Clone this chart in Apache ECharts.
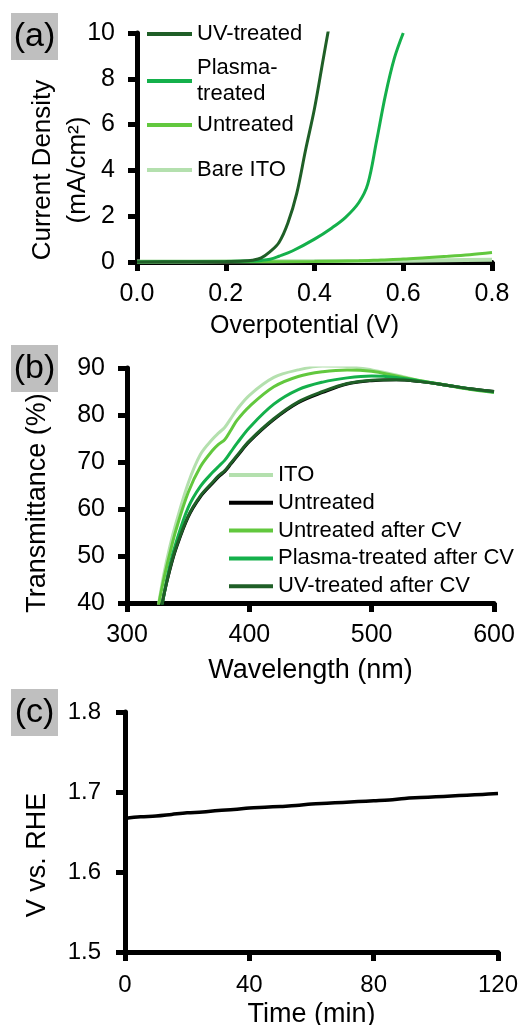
<!DOCTYPE html>
<html><head><meta charset="utf-8">
<script src="https://cdn.jsdelivr.net/npm/echarts@6/dist/echarts.min.js"></script>
<style>html,body{margin:0;padding:0;background:#fff;}#c{width:525px;height:1025px;}</style>
</head><body><div id="c"></div>
<script>
// ---------- Panel (a): Current density vs overpotential ----------
const ovpUV = [0, 0.1, 0.2, 0.24, 0.26, 0.28, 0.30, 0.32, 0.34, 0.36, 0.38, 0.40, 0.42, 0.432];
const jUV   = [0, 0.01, 0.02, 0.04, 0.08, 0.18, 0.45, 0.85, 1.7, 3.0, 4.9, 6.7, 8.9, 10.2];
const ovpPlasma = [0, 0.1, 0.2, 0.25, 0.28, 0.30, 0.32, 0.35, 0.40, 0.44, 0.47, 0.50, 0.52, 0.54, 0.56, 0.58, 0.60];
const jPlasma   = [0, 0.01, 0.02, 0.04, 0.07, 0.12, 0.25, 0.48, 1.0, 1.5, 1.95, 2.6, 3.4, 5.3, 7.3, 8.9, 10.0];
const ovpUntreated = [0, 0.2, 0.4, 0.5, 0.55, 0.6, 0.65, 0.7, 0.75, 0.8];
const jUntreated   = [0, 0.01, 0.02, 0.05, 0.09, 0.13, 0.19, 0.25, 0.32, 0.41];
const ovpITO = [0, 0.2, 0.4, 0.6, 0.7, 0.8];
const jITO   = [0.02, 0.03, 0.04, 0.06, 0.08, 0.1];
const legendA = ['UV-treated', 'Plasma-\ntreated', 'Untreated', 'Bare ITO'];

// ---------- Panel (b): Transmittance vs wavelength ----------
const wavelength = [325, 330, 335, 340, 350, 360, 370, 375, 380, 385, 390, 400, 420, 440, 460, 480, 500, 520, 540, 560, 580, 600];
const tITO        = [38.5, 46, 52, 57, 65.5, 71.6, 74.9, 76.2, 77.4, 79.3, 81.2, 84.2, 88, 89.6, 90.4, 90.3, 89.6, 88.5, 87.3, 86.4, 85.6, 85.0];
const tUntreated  = [34, 41.5, 47, 51.5, 58.3, 62.6, 65.5, 66.9, 68.0, 69.6, 71.2, 74.3, 79, 82.6, 84.8, 86.6, 87.3, 87.5, 87.1, 86.4, 85.6, 85.0];
const tUntreatedCV= [38.5, 45, 50.5, 55.5, 63.5, 69, 72.5, 73.8, 74.8, 76.8, 78.9, 81.8, 86, 88.2, 89.2, 89.6, 89.3, 88.3, 87.3, 86.4, 85.5, 84.8];
const tPlasmaCV   = [34, 41.5, 48, 52.8, 60.3, 64.8, 67.8, 69.1, 70.4, 72.2, 74.0, 77.3, 82.3, 85.4, 87, 87.9, 88.3, 88, 87.2, 86.4, 85.6, 84.9];
const tUVCV       = [34, 41.5, 47.2, 51.7, 58.5, 62.8, 65.7, 67.1, 68.2, 69.8, 71.4, 74.5, 79.2, 82.8, 85, 86.7, 87.4, 87.5, 87.1, 86.4, 85.6, 85.0];
const namesB = ['ITO', 'Untreated', 'Untreated after CV', 'Plasma-treated after CV', 'UV-treated after CV'];

// ---------- Panel (c): Potential vs time ----------
const timeMin = [0, 5, 10, 15, 20, 25, 30, 35, 40, 45, 50, 55, 60, 65, 70, 75, 80, 85, 90, 95, 100, 105, 110, 115, 120];
const vRHE = [1.667, 1.669, 1.670, 1.672, 1.674, 1.675, 1.677, 1.678, 1.680, 1.681, 1.682, 1.683, 1.685, 1.686, 1.687, 1.688, 1.689, 1.690, 1.692, 1.693, 1.694, 1.695, 1.696, 1.697, 1.698];

const C = { uv: '#1f5f27', plasma: '#14b04b', untreated: '#62c83e', ito: '#b4e0ae', black: '#000000' };
const FF = '"Liberation Sans", Arial, sans-serif';
const zip = (xs, ys) => xs.map((x, i) => [x, ys[i]]);

function axisBase(extra) {
  return Object.assign({
    type: 'value',
    axisLine: { show: true, onZero: false, lineStyle: { color: '#000', width: 5 } },
    axisTick: { show: true, length: 9, lineStyle: { color: '#000', width: 5 } },
    splitLine: { show: false },
    nameLocation: 'middle',
    nameMoveOverlap: false,
  }, extra);
}
function line(name, xi, data, color, width) {
  return { type: 'line', name, xAxisIndex: xi, yAxisIndex: xi, data, showSymbol: false, symbol: 'none',
    smooth: 0.35, clip: true,
    lineStyle: { width: width || 3, color }, itemStyle: { color }, emphasis: { disabled: true } };
}
function legendItem(name, label, top, extraText) {
  return { data: [name], left: 147, top, orient: 'vertical', padding: 0, icon: 'rect', itemWidth: 45, itemHeight: 4,
    selectedMode: false, formatter: () => label,
    textStyle: Object.assign({ fontSize: 22, lineHeight: 24, fontFamily: FF, color: '#000' }, extraText || {}) };
}
function panelLabel(text, y) {
  return [
    { type: 'rect', shape: { x: 11, y, width: 47, height: 47 }, style: { fill: '#bfbfbf' } },
    { type: 'text', x: 34.5, y: y + 23.5, style: { text, fontSize: 34, fontFamily: FF, fill: '#000',
      align: 'center', verticalAlign: 'middle', textAlign: 'center', textVerticalAlign: 'middle' } }
  ];
}

const chart = echarts.init(document.getElementById('c'), null, { renderer: 'canvas' });
chart.setOption({
  backgroundColor: '#fff',
  animation: false,
  textStyle: { fontFamily: FF },
  grid: [
    { left: 137, right: 33, top: 33, height: 229, outerBoundsMode: 'none', containLabel: false },
    { left: 127, right: 31, top: 368, height: 235, outerBoundsMode: 'none', containLabel: false },
    { left: 125, right: 27, top: 712, height: 240, outerBoundsMode: 'none', containLabel: false },
  ],
  xAxis: [
    axisBase({ gridIndex: 0, min: 0, max: 0.8, interval: 0.2, name: 'Overpotential (V)', nameGap: 52,
      nameTextStyle: { fontSize: 25, color: '#000', fontFamily: FF, padding: [0, 20, 0, 0] },
      axisLabel: { fontSize: 25, color: '#000', fontFamily: FF, margin: 20, formatter: v => v.toFixed(1) } }),
    axisBase({ gridIndex: 1, min: 300, max: 600, interval: 100, name: 'Wavelength (nm)', nameGap: 54,
      nameTextStyle: { fontSize: 27, color: '#000', fontFamily: FF },
      axisLabel: { fontSize: 25, color: '#000', fontFamily: FF, margin: 20 } }),
    axisBase({ gridIndex: 2, min: 0, max: 120, interval: 40, name: 'Time (min)', nameGap: 49,
      nameTextStyle: { fontSize: 27, color: '#000', fontFamily: FF },
      axisLabel: { fontSize: 24, color: '#000', fontFamily: FF, margin: 21 } }),
  ],
  yAxis: [
    axisBase({ gridIndex: 0, min: 0, max: 10, interval: 2, name: 'Current Density\n(mA/cm²)', nameGap: 42, nameRotate: 90,
      nameTextStyle: { fontSize: 26, lineHeight: 35, color: '#000', fontFamily: FF, padding: [0, 45, 0, 0] },
      axisLabel: { fontSize: 25, color: '#000', fontFamily: FF, margin: 22 } }),
    axisBase({ gridIndex: 1, min: 40, max: 90, interval: 10, name: 'Transmittance (%)', nameGap: 76, nameRotate: 90,
      nameTextStyle: { fontSize: 27, color: '#000', fontFamily: FF, padding: [0, 35, 0, 0] },
      axisLabel: { fontSize: 25, color: '#000', fontFamily: FF, margin: 22 } }),
    axisBase({ gridIndex: 2, min: 1.5, max: 1.8, interval: 0.1, name: 'V vs. RHE', nameGap: 74, nameRotate: 90,
      nameTextStyle: { fontSize: 27, color: '#000', fontFamily: FF, padding: [0, 46, 0, 0] },
      axisLabel: { fontSize: 24, color: '#000', fontFamily: FF, margin: 24, formatter: v => v.toFixed(1) } }),
  ],
  legend: [
    legendItem('a-UV', legendA[0], 22),
    legendItem('a-Plasma', legendA[1], 42, { lineHeight: 26, padding: [26, 0, 0, 0] }),
    legendItem('a-Untreated', legendA[2], 113),
    legendItem('a-ITO', legendA[3], 158),
    { data: namesB, left: 229, top: 463, orient: 'vertical', padding: 0, icon: 'rect', itemWidth: 44, itemHeight: 4,
      itemGap: 3.8, selectedMode: false,
      textStyle: { fontSize: 22, lineHeight: 24, fontFamily: FF, color: '#000' } },
  ],
  graphic: [].concat(panelLabel('(a)', 13), panelLabel('(b)', 345), panelLabel('(c)', 689)),
  series: [
    line('a-ITO', 0, zip(ovpITO, jITO), C.ito, 4),
    line('a-Untreated', 0, zip(ovpUntreated, jUntreated), C.untreated, 3),
    line('a-Plasma', 0, zip(ovpPlasma, jPlasma), C.plasma, 3),
    line('a-UV', 0, zip(ovpUV, jUV), C.uv, 3),
    line(namesB[0], 1, zip(wavelength, tITO), C.ito, 3),
    line(namesB[1], 1, zip(wavelength, tUntreated), C.black, 3),
    line(namesB[2], 1, zip(wavelength, tUntreatedCV), C.untreated, 3),
    line(namesB[3], 1, zip(wavelength, tPlasmaCV), C.plasma, 3),
    line(namesB[4], 1, zip(wavelength, tUVCV), C.uv, 3),
    line('V vs. RHE', 2, zip(timeMin, vRHE), C.black, 3.5),
  ],
});
</script></body></html>
